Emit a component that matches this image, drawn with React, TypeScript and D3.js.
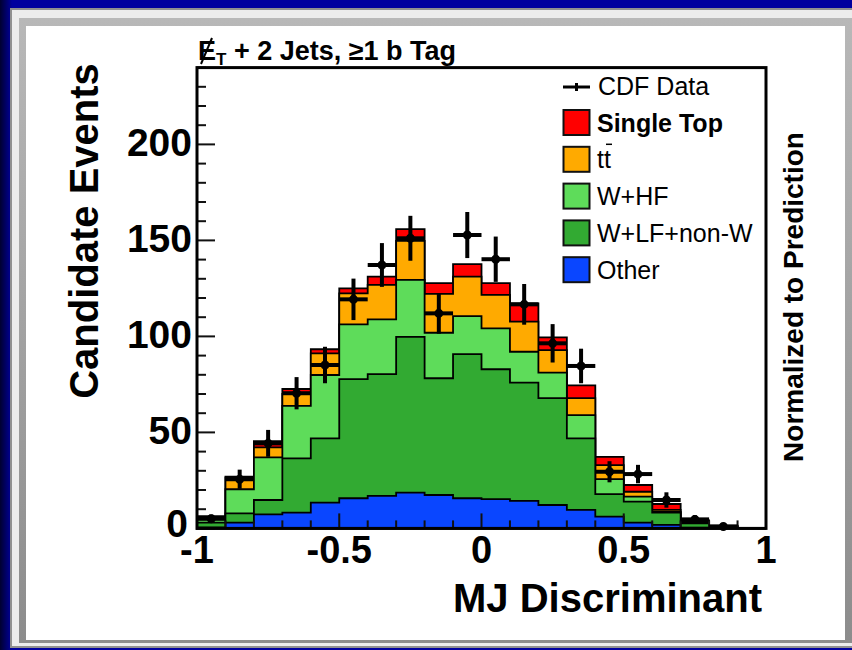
import React, { useEffect, useRef } from 'react'
import * as d3 from 'd3'

// MJ discriminant histogram, 20 bins of width 0.1
const binEdges = [-1, -0.9, -0.8, -0.7, -0.6, -0.5, -0.4, -0.3, -0.2, -0.1, 0, 0.1, 0.2, 0.3, 0.4, 0.5, 0.6, 0.7, 0.8, 0.9, 1]

const other = [0.5, 3.0, 7.3, 8.2, 13.4, 15.7, 16.9, 18.6, 17.4, 15.7, 15.2, 14.3, 12.2, 9.6, 6.1, 3.0, 1.8, 0.4, 0.1, 0]
const wlfNonW = [2.5, 4.8, 7.5, 28.3, 33.5, 62.0, 63.4, 81.2, 60.8, 75.1, 67.7, 61.6, 55.6, 37.3, 11.7, 10.9, 6.4, 2.2, 0.7, 0]
const whf = [3.0, 12.6, 22.2, 27.3, 33.0, 28.6, 28.6, 29.6, 23.7, 19.8, 21.3, 16.1, 13.3, 12.1, 7.9, 2.6, 0.4, 0.6, 0.2, 0]
const ttbar = [0.2, 6.0, 5.2, 6.2, 11.3, 16.1, 17.9, 20.4, 20.2, 20.5, 17.4, 15.7, 11.8, 8.8, 7.3, 2.6, 1.0, 0.5, 0.2, 0]
const singleTop = [0.1, 0.6, 3.3, 2.6, 2.1, 2.6, 4.3, 6.1, 5.6, 6.5, 6.1, 9.5, 6.6, 6.7, 4.3, 3.5, 3.1, 0.5, 0.2, 0]

const cdfData = [5, 25.6, 44.3, 70.4, 85.1, 119.3, 137.2, 151.1, 112, 152.8, 140.2, 116.7, 96.4, 84.6, 29.5, 28.3, 14.8, 4.7, 1, 0]
const cdfErr = [2.2, 5.0, 7.0, 8.4, 9.5, 10.8, 11.4, 11.7, 10.6, 12.0, 11.8, 10.6, 10.0, 9.0, 5.5, 4.8, 4.0, 2.2, 1.0, 0]

const xTickLabels = [-1, -0.5, 0, 0.5, 1]
const yTickLabels = [0, 50, 100, 150, 200]

const stackKeys = ['other', 'wlf', 'whf', 'tt', 'st']
const stackColors: Record<string, string> = {
  other: '#0a46ff',
  wlf: '#32aa32',
  whf: '#5edc5a',
  tt: '#ffaa00',
  st: '#ff0000',
}
const legendKeys = ['st', 'tt', 'whf', 'wlf', 'other']
const legendLabels = ['Single Top', 'tt', 'W+HF', 'W+LF+non-W', 'Other']

const FONT = '"Liberation Sans", Arial, Helvetica, sans-serif'

const App: React.FC = () => {
  const svgRef = useRef<SVGSVGElement>(null)

  useEffect(() => {
    if (!svgRef.current) return
    const svg = d3.select(svgRef.current)
    svg.selectAll('*').remove()

    // slide background + bevelled white panel
    const defs = svg.append('defs')
    const grad = defs.append('linearGradient').attr('id', 'leftShade')
      .attr('x1', 0).attr('x2', 1).attr('y1', 0).attr('y2', 0)
    grad.append('stop').attr('offset', '0%').attr('stop-color', '#000030')
    grad.append('stop').attr('offset', '100%').attr('stop-color', '#00009e')
    const bev = defs.append('linearGradient').attr('id', 'bevel')
      .attr('x1', 0).attr('x2', 0).attr('y1', 0).attr('y2', 1)
    bev.append('stop').attr('offset', '0%').attr('stop-color', '#b8b8b8')
    bev.append('stop').attr('offset', '100%').attr('stop-color', '#8c8c8c')

    svg.append('rect').attr('width', 852).attr('height', 650).attr('fill', '#00009e')
    svg.append('rect').attr('width', 12).attr('height', 650).attr('fill', 'url(#leftShade)')
    svg.append('rect').attr('x', 10).attr('y', 8).attr('width', 900).attr('height', 640).attr('fill', '#909090')
    svg.append('rect').attr('x', 12).attr('y', 10).attr('width', 900).attr('height', 636).attr('fill', '#ececec')
    svg.append('rect').attr('x', 19).attr('y', 18).attr('width', 900).attr('height', 625).attr('fill', 'url(#bevel)')
    svg.append('rect').attr('x', 26).attr('y', 26).attr('width', 819).attr('height', 614).attr('fill', '#ffffff')

    const x = d3.scaleLinear().domain([-1, 1]).range([197, 766])
    const y = d3.scaleLinear().domain([0, 240]).range([528.4, 67.6])

    const bins = binEdges.slice(0, -1).map((lo, i) => ({
      lo,
      hi: binEdges[i + 1],
      other: other[i],
      wlf: wlfNonW[i],
      whf: whf[i],
      tt: ttbar[i],
      st: singleTop[i],
    }))

    const stacked = d3.stack<any>().keys(stackKeys)(bins)

    const area = d3.area<[number, number]>()
      .x(d => x(d[0]))
      .y0(y(0))
      .y1(d => y(d[1]))

    // ROOT THStack style: each cumulative histogram drawn from zero, top one first
    const plot = svg.append('g')
    stacked.slice().reverse().forEach(layer => {
      const pts: [number, number][] = []
      layer.forEach((s, i) => {
        pts.push([bins[i].lo, s[1]])
        pts.push([bins[i].hi, s[1]])
      })
      plot.append('path')
        .attr('d', area(pts))
        .attr('fill', stackColors[layer.key])
        .attr('stroke', '#000')
        .attr('stroke-width', 1.8)
        .attr('stroke-linejoin', 'miter')
    })

    // ticks
    const axes = svg.append('g').attr('stroke', '#111').attr('stroke-width', 2)
    d3.range(0, 241, 10).forEach(v => {
      const major = v % 50 === 0
      axes.append('line')
        .attr('x1', x(-1)).attr('x2', x(-1) + (major ? 18 : 9))
        .attr('y1', y(v)).attr('y2', y(v))
    })
    binEdges.forEach(v => {
      const major = Math.abs(v * 2 - Math.round(v * 2)) < 1e-6
      axes.append('line')
        .attr('x1', x(v)).attr('x2', x(v))
        .attr('y1', y(0)).attr('y2', y(0) - (major ? 15 : 8))
    })

    // frame
    svg.append('rect')
      .attr('x', x(-1)).attr('y', y(240))
      .attr('width', x(1) - x(-1)).attr('height', y(0) - y(240))
      .attr('fill', 'none').attr('stroke', '#000').attr('stroke-width', 3)

    // data points
    const pts = svg.append('g').attr('stroke', '#000').attr('stroke-width', 4)
    bins.forEach((b, i) => {
      if (cdfData[i] <= 0) return
      const cx = x((b.lo + b.hi) / 2)
      pts.append('line')
        .attr('x1', x(b.lo)).attr('x2', x(b.hi))
        .attr('y1', y(cdfData[i])).attr('y2', y(cdfData[i]))
      pts.append('line')
        .attr('x1', cx).attr('x2', cx)
        .attr('y1', y(cdfData[i] - cdfErr[i])).attr('y2', y(cdfData[i] + cdfErr[i]))
      pts.append('circle').attr('cx', cx).attr('cy', y(cdfData[i])).attr('r', 2.5).attr('fill', '#000')
    })

    // tick labels
    const txt = svg.append('g').attr('font-family', FONT).attr('fill', '#000')
    yTickLabels.forEach(v => {
      txt.append('text')
        .attr('x', v === 0 ? 188 : 192).attr('y', y(v) + (v === 0 ? 9 : 12))
        .attr('text-anchor', 'end')
        .attr('font-size', 39).attr('font-weight', 'bold')
        .text(v)
    })
    xTickLabels.forEach(v => {
      txt.append('text')
        .attr('x', x(v)).attr('y', 563)
        .attr('text-anchor', 'middle')
        .attr('font-size', 38).attr('font-weight', 'bold')
        .text(String(v))
    })

    // axis titles
    txt.append('text')
      .attr('x', 762).attr('y', 612)
      .attr('text-anchor', 'end')
      .attr('font-size', 40).attr('font-weight', 'bold')
      .text('MJ Discriminant')
    txt.append('text')
      .attr('transform', 'translate(98,231) rotate(-90)')
      .attr('text-anchor', 'middle')
      .attr('font-size', 40).attr('font-weight', 'bold')
      .text('Candidate Events')
    txt.append('text')
      .attr('transform', 'translate(803,297) rotate(-90)')
      .attr('text-anchor', 'middle')
      .attr('font-size', 28).attr('font-weight', 'bold')
      .text('Normalized to Prediction')

    // title: missing ET + 2 jets
    const title = txt.append('text')
      .attr('x', 198).attr('y', 60)
      .attr('font-size', 27).attr('font-weight', 'bold')
    title.append('tspan').text('E')
    title.append('tspan').attr('font-size', 17).attr('dy', 5).text('T')
    title.append('tspan').attr('dy', -5).text(' + 2 Jets, \u22651 b Tag')
    svg.append('line')
      .attr('x1', 201).attr('x2', 212).attr('y1', 64).attr('y2', 38)
      .attr('stroke', '#000').attr('stroke-width', 2)

    // legend
    const leg = svg.append('g')
    leg.append('line').attr('x1', 563).attr('x2', 590).attr('y1', 87).attr('y2', 87)
      .attr('stroke', '#000').attr('stroke-width', 3)
    leg.append('line').attr('x1', 576.5).attr('x2', 576.5).attr('y1', 83).attr('y2', 91)
      .attr('stroke', '#000').attr('stroke-width', 3)
    leg.append('text').attr('x', 598).attr('y', 95)
      .attr('font-family', FONT).attr('font-size', 25).text('CDF Data')

    legendKeys.forEach((k, i) => {
      const cy = 122.5 + i * 36.8
      leg.append('rect')
        .attr('x', 563.5).attr('y', cy - 12.5).attr('width', 26).attr('height', 25)
        .attr('fill', stackColors[k]).attr('stroke', '#111').attr('stroke-width', 2)
      leg.append('text')
        .attr('x', 597).attr('y', cy + 9)
        .attr('font-family', FONT).attr('font-size', 25)
        .attr('font-weight', i === 0 ? 'bold' : 'normal')
        .text(legendLabels[i])
      if (k === 'tt') {
        leg.append('line').attr('x1', 606).attr('x2', 612).attr('y1', cy - 15).attr('y2', cy - 15)
          .attr('stroke', '#000').attr('stroke-width', 1.5)
      }
    })
  }, [])

  return (
    <svg ref={svgRef} width={852} height={650}
      style={{ position: 'absolute', left: 0, top: 0, display: 'block' }} />
  )
}

export default App
